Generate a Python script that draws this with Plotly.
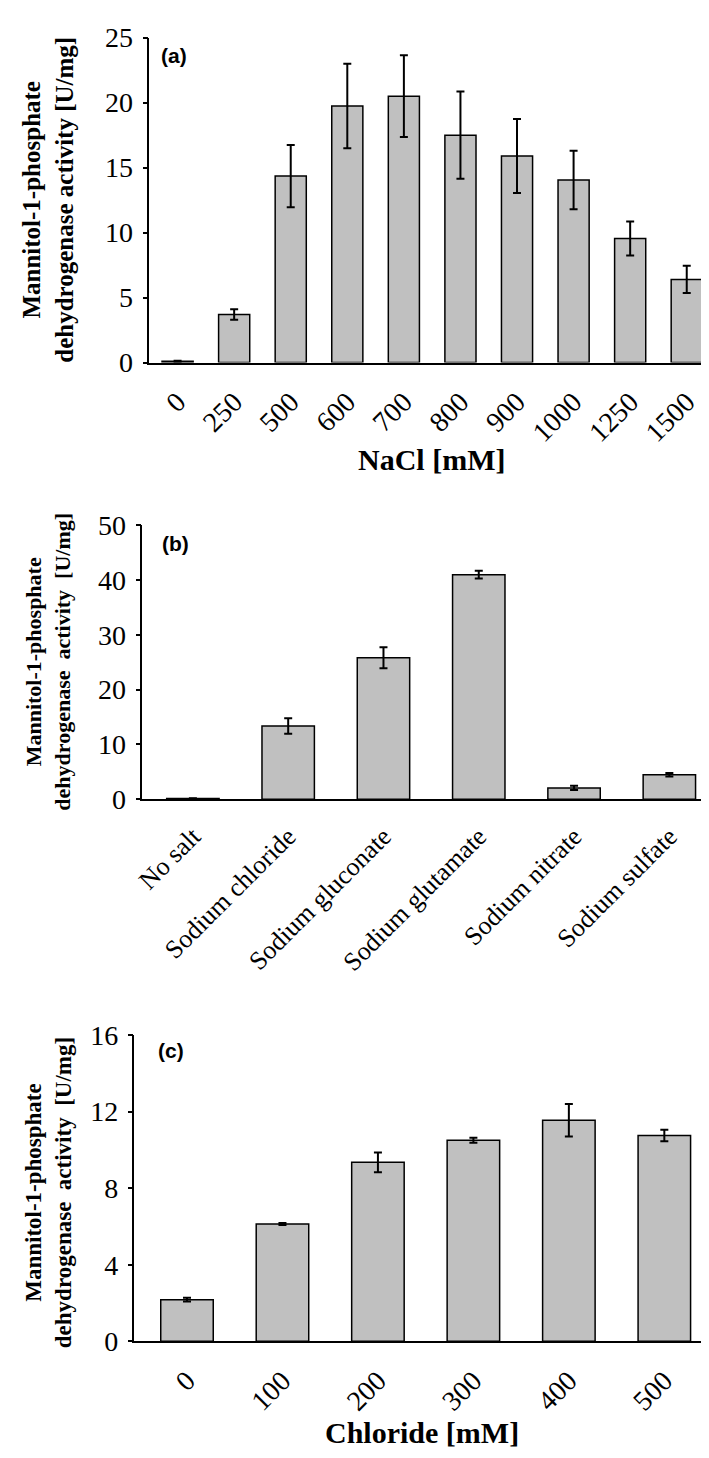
import plotly.graph_objects as go

# Panel (a): NaCl concentration
nacl_labels = ["0", "250", "500", "600", "700", "800", "900", "1000", "1250", "1500"]
nacl_values = [0.1, 3.7, 14.35, 19.75, 20.5, 17.5, 15.9, 14.05, 9.55, 6.4]
nacl_errors = [0.05, 0.4, 2.4, 3.25, 3.15, 3.35, 2.85, 2.25, 1.3, 1.05]

# Panel (b): sodium salts
salt_labels = ["No salt", "Sodium chloride", "Sodium gluconate", "Sodium glutamate",
               "Sodium nitrate", "Sodium sulfate"]
salt_values = [0.1, 13.35, 25.8, 40.95, 2.05, 4.45]
salt_errors = [0.05, 1.4, 1.9, 0.7, 0.4, 0.3]

# Panel (c): chloride concentration
cl_labels = ["0", "100", "200", "300", "400", "500"]
cl_values = [2.18, 6.13, 9.35, 10.5, 11.55, 10.75]
cl_errors = [0.1, 0.05, 0.52, 0.13, 0.85, 0.3]

W, H = 709, 1458
SERIF = "Liberation Serif, Times New Roman, serif"
SANS = "Liberation Sans, Arial, sans-serif"
BAR_FILL = "#c0c0c0"

fig = go.Figure()

def add_bars(x, y, err, xa, ya):
    fig.add_trace(go.Bar(
        x=x, y=y, xaxis=xa, yaxis=ya,
        marker=dict(color=BAR_FILL, line=dict(color="black", width=1.5)),
        error_y=dict(type="data", array=err, visible=True, color="black",
                     thickness=2, width=4),
        showlegend=False,
    ))

add_bars(nacl_labels, nacl_values, nacl_errors, "x", "y")
add_bars(salt_labels, salt_values, salt_errors, "x2", "y2")
add_bars(cl_labels, cl_values, cl_errors, "x3", "y3")

def py(pix):
    return 1 - pix / H

def px(pix):
    return pix / W

common_x = dict(type="category", showline=True, linecolor="black", linewidth=1.5,
                ticks="", showgrid=False, zeroline=False, tickangle=-45,
                tickfont=dict(family=SERIF, size=28, color="black"),
                ticklabelstandoff=10)
common_y = dict(showline=True, linecolor="black", linewidth=1.5, ticks="outside",
                ticklen=5, tickwidth=1.5, tickcolor="black", showgrid=False,
                zeroline=False, tickfont=dict(family=SERIF, size=28, color="black"),
                ticklabelstandoff=4)

fig.update_layout(
    width=W, height=H,
    margin=dict(l=0, r=0, t=0, b=0),
    paper_bgcolor="white", plot_bgcolor="white",
    bargap=0.45,
    xaxis=dict(common_x, domain=[px(134), px(707)], range=[-0.5, 9.5], anchor="y"),
    yaxis=dict(common_y, domain=[py(347), py(15)], range=[0, 25], dtick=5, anchor="x"),
    xaxis2=dict(common_x, domain=[px(127), 1.0], range=[-0.53, 5.5], anchor="y2",
                tickfont=dict(family=SERIF, size=26, color="black")),
    yaxis2=dict(common_y, domain=[py(793), py(513)], range=[0, 50], dtick=10, anchor="x2"),
    xaxis3=dict(common_x, domain=[px(119), px(704)], range=[-0.55, 5.5], anchor="y3"),
    yaxis3=dict(common_y, domain=[py(1347), py(1034)], range=[0, 16], dtick=4, anchor="x3"),
)

title_font = dict(family=SERIF, color="black")
annos = [
    # y-axis titles
    dict(text="<b>Mannitol-1-phosphate<br>dehydrogenase activity [U/mg]</b>",
         x=px(32), y=py(181), textangle=-90, font=dict(title_font, size=25)),
    dict(text="<b>Mannitol-1-phosphate<br>dehydrogenase&nbsp; activity&nbsp; [U/mg]</b>",
         x=px(32), y=py(653), textangle=-90, font=dict(title_font, size=22)),
    dict(text="<b>Mannitol-1-phosphate<br>dehydrogenase&nbsp; activity&nbsp; [U/mg]</b>",
         x=px(32), y=py(1195), textangle=-90, font=dict(title_font, size=23)),
    # x-axis titles
    dict(text="<b>NaCl [mM]</b>", x=px(420), y=py(446),
         font=dict(title_font, size=30)),
    dict(text="<b>Chloride [mM]</b>", x=px(410), y=py(1440),
         font=dict(title_font, size=30)),
    # panel letters
    dict(text="<b>(a)</b>", x=px(159), y=py(33), font=dict(family=SANS, size=21, color="black")),
    dict(text="<b>(b)</b>", x=px(161), y=py(532), font=dict(family=SANS, size=21, color="black")),
    dict(text="<b>(c)</b>", x=px(156), y=py(1050), font=dict(family=SANS, size=21, color="black")),
]
for a in annos:
    fig.add_annotation(xref="paper", yref="paper", showarrow=False,
                       xanchor="center", yanchor="middle", **a)

fig.write_html("out.html")
